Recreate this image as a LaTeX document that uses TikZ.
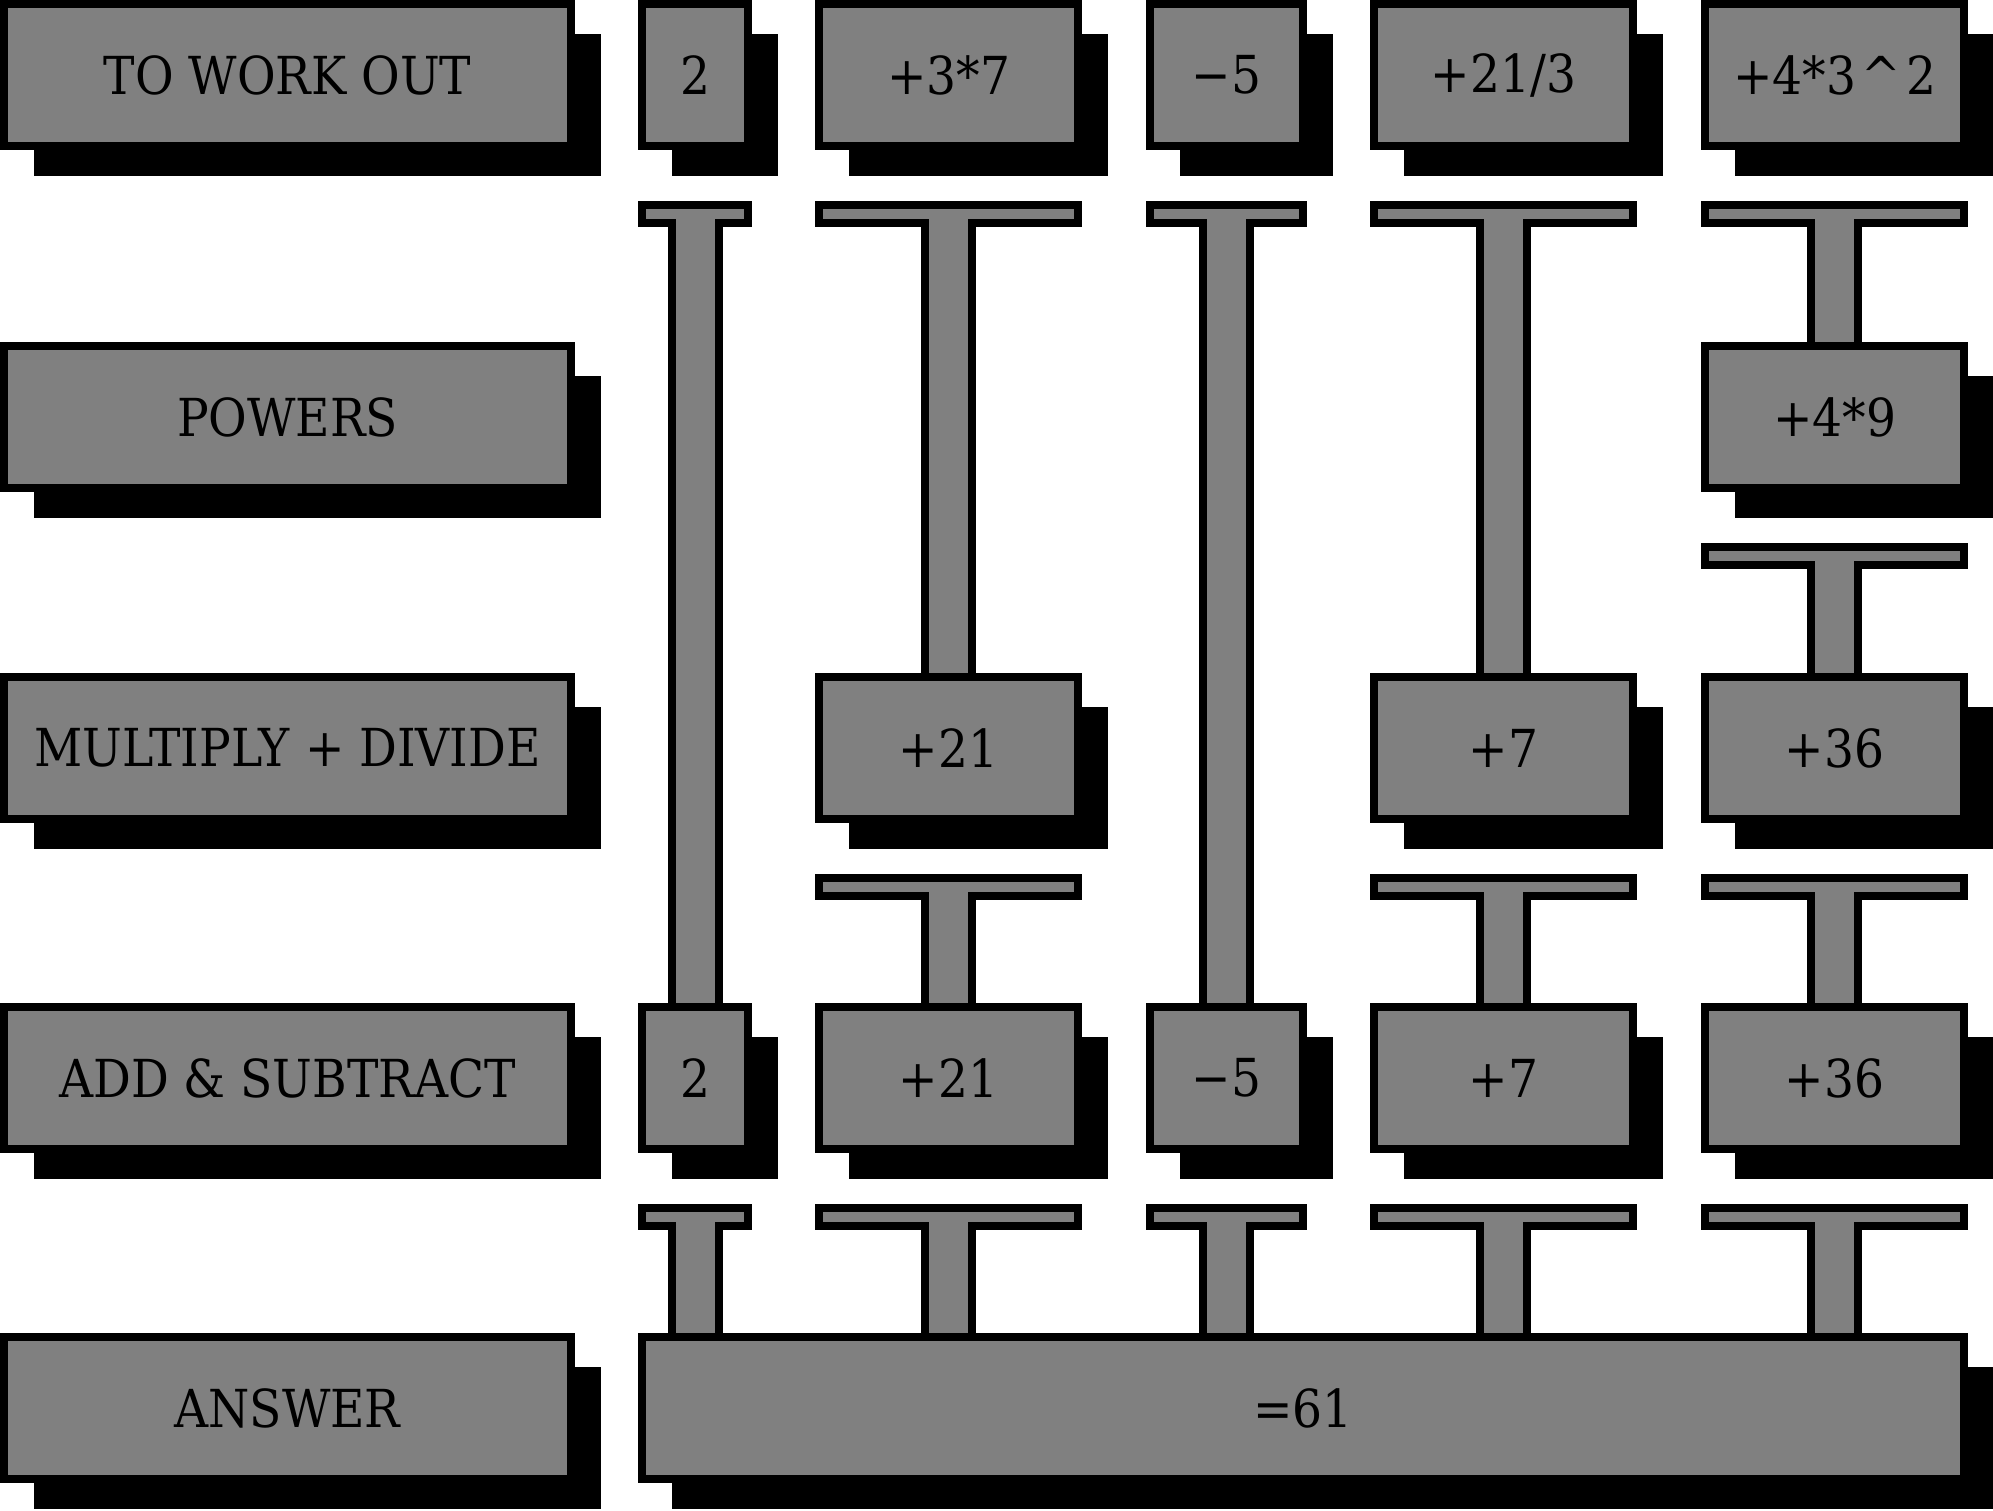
\documentclass[tikz,border=0pt]{standalone}
\usepackage{fontspec}
\setmainfont{DejaVu Serif Condensed}
\usepackage{tikz}
\usetikzlibrary{positioning, calc, shadows}

\begin{document}
\begin{tikzpicture}[
  cell/.style={rectangle, draw, line width=0.08cm, fill=gray, inner sep=0pt, minimum height=1.42cm, font=\fontsize{14.9}{18}\selectfont, drop shadow={shadow xshift=0.3cm, shadow yshift=-0.3cm, fill=black, opacity=1}},
  stage/.style={cell, minimum width=5.67cm},
  tee/.style={draw, line width=0.08cm, fill=gray, to path={
    ($(\tikztostart.south west)+(0.04,-0.55)$) -- ($(\tikztostart.south east)+(-0.04,-0.55)$)
    -- ($(\tikztostart.south east)+(-0.04,-0.73)$) -- ($(\tikztostart.south)+(0.235,-0.73)$)
    -- ($(\tikztostart.south |- \tikztotarget.north)+(0.235,-0.04)$)
    -- ($(\tikztostart.south |- \tikztotarget.north)+(-0.235,-0.04)$)
    -- ($(\tikztostart.south)+(-0.235,-0.73)$) -- ($(\tikztostart.south west)+(0.04,-0.73)$) -- cycle}},
]
\useasboundingbox (0,0) rectangle (19.93,-15.10);

\node[stage, anchor=north west] (work) at (0,0) {TO WORK OUT};
\node[stage, below=1.92cm of work] (pow) {POWERS};
\node[stage, below=1.81cm of pow] (mul) {MULTIPLY + DIVIDE};
\node[stage, below=1.80cm of mul] (add) {ADD \& SUBTRACT};
\node[stage, below=1.80cm of add] (ans) {ANSWER};

\node[cell, minimum width=1.06cm, right=0.63cm of work] (w1) {2};
\node[cell, minimum width=2.59cm, right=0.63cm of w1] (w2) {+3*7};
\node[cell, minimum width=1.53cm, right=0.64cm of w2] (w3) {−5};
\node[cell, minimum width=2.59cm, right=0.63cm of w3] (w4) {+21/3};
\node[cell, minimum width=2.59cm, right=0.64cm of w4] (w5) {+4*3\kern0.1em\textasciicircum\kern0.1em 2};

\node[cell, minimum width=2.59cm] (p5) at (w5 |- pow) {+4*9};

\node[cell, minimum width=2.59cm] (m2) at (w2 |- mul) {+21};
\node[cell, minimum width=2.59cm] (m4) at (w4 |- mul) {+7};
\node[cell, minimum width=2.59cm] (m5) at (w5 |- mul) {+36};

\node[cell, minimum width=1.06cm] (a1) at (w1 |- add) {2};
\node[cell, minimum width=2.59cm] (a2) at (w2 |- add) {+21};
\node[cell, minimum width=1.53cm] (a3) at (w3 |- add) {−5};
\node[cell, minimum width=2.59cm] (a4) at (w4 |- add) {+7};
\node[cell, minimum width=2.59cm] (a5) at (w5 |- add) {+36};

\node[cell, minimum width=13.22cm, right=0.63cm of ans] (res) {=61};

\draw[tee] (w1) to (a1);
\draw[tee] (w2) to (m2);
\draw[tee] (w3) to (a3);
\draw[tee] (w4) to (m4);
\draw[tee] (w5) to (p5);
\draw[tee] (p5) to (m5);
\draw[tee] (m2) to (a2);
\draw[tee] (m4) to (a4);
\draw[tee] (m5) to (a5);
\draw[tee] (a1) to (res);
\draw[tee] (a2) to (res);
\draw[tee] (a3) to (res);
\draw[tee] (a4) to (res);
\draw[tee] (a5) to (res);
\end{tikzpicture}
\end{document}
